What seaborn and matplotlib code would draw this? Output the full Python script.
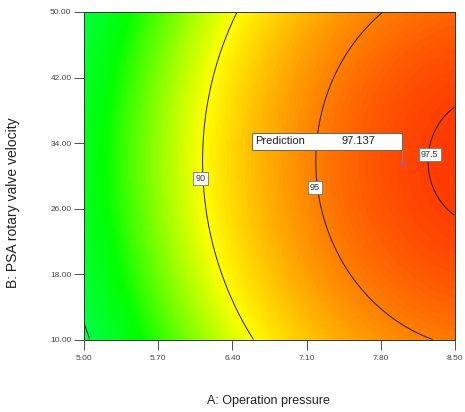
import numpy as np
import pandas as pd
import matplotlib
matplotlib.use("Agg")
import matplotlib.pyplot as plt
from matplotlib.colors import LinearSegmentedColormap
from matplotlib.patches import Rectangle
import seaborn as sns

# Factor ranges and tick labels
a_range = [5.00, 8.50]
b_range = [10.00, 50.00]
a_ticks = [5.00, 5.70, 6.40, 7.10, 7.80, 8.50]
b_ticks = [10.00, 18.00, 26.00, 34.00, 42.00, 50.00]

# Quadratic response surface: R = peak - ka*(A - a0)^2 - kb*(B - b0)^2
surface_peak = 97.835
surface_center = [8.80, 31.8]
surface_curvature = [1.09, 0.0054]

# Contour levels drawn, and where their labels sit
contour_levels = [80.0, 90.0, 95.0, 97.5]
label_levels = [90.0, 95.0, 97.5]
label_points = [(6.10, 29.7), (7.18, 28.6), (8.26, 32.6)]

# Flagged prediction
pred_point = (8.00, 31.6)
pred_value = 97.137

# Colour stops (response value -> colour)
stop_values = [58.0, 70.0, 83.7, 90.0, 100.0]
stop_colors = ["#0000ff", "#00ffff", "#00ff00", "#ffff00", "#ff0000"]


def response(a, b):
    return (surface_peak
            - surface_curvature[0] * (a - surface_center[0]) ** 2
            - surface_curvature[1] * (b - surface_center[1]) ** 2)


sns.set_style("white")
plt.rcParams["font.family"] = ["Liberation Sans", "DejaVu Sans"]

N = 300
a_cent = a_range[0] + (np.arange(N) + 0.5) * (a_range[1] - a_range[0]) / N
b_cent = b_range[0] + (np.arange(N) + 0.5) * (b_range[1] - b_range[0]) / N
AA, BB = np.meshgrid(a_cent, b_cent)
Z = response(AA, BB)
grid = pd.DataFrame(Z, index=b_cent, columns=a_cent)

vmin, vmax = stop_values[0], stop_values[-1]
pos = [(v - vmin) / (vmax - vmin) for v in stop_values]
cmap = LinearSegmentedColormap.from_list("de", list(zip(pos, stop_colors)))


def ix(a):
    return (np.asarray(a) - a_range[0]) / (a_range[1] - a_range[0]) * N


def iy(b):
    return (np.asarray(b) - b_range[0]) / (b_range[1] - b_range[0]) * N


fig = plt.figure(figsize=(4.65, 4.12), dpi=100)
ax = fig.add_axes([0.1806, 0.1748, 0.7978, 0.7961])

sns.heatmap(grid, ax=ax, cmap=cmap, vmin=vmin, vmax=vmax, cbar=False,
            xticklabels=False, yticklabels=False, linewidths=0,
            rasterized=True)
ax.set_xlim(0, N)
ax.set_ylim(0, N)

XI, YI = np.meshgrid(np.arange(N) + 0.5, np.arange(N) + 0.5)
cs = ax.contour(XI, YI, Z, levels=contour_levels, colors="#202020",
                linewidths=0.7)

# Contour value labels
for lev, (la, lb) in zip(label_levels, label_points):
    ax.text(ix(la), iy(lb), f"{lev:g}", fontsize=6.5, color="#333333",
            ha="center", va="center", zorder=5,
            bbox=dict(boxstyle="square,pad=0.25", fc="white",
                      ec="#777777", lw=0.6))

# Prediction flag
px, py = ix(pred_point[0]), iy(pred_point[1])
box_h = iy(pred_point[1] + 2.07) - py
box_w = ix(pred_point[0]) - ix(pred_point[0] - 1.415)
gap = iy(pred_point[1] + 1.6) - py
ax.plot([px, px], [py, py + gap], color="#b07090", lw=0.8, zorder=6)
ax.plot([px], [py], marker="o", ms=2.5, color="#c05080", zorder=7)
ax.add_patch(Rectangle((px - box_w, py + gap), box_w, box_h, fc="white",
                       ec="#666666", lw=0.7, zorder=6))
ax.text(px - box_w + 2.5, py + gap + box_h / 2, "Prediction", fontsize=8,
        color="#222222", ha="left", va="center", zorder=7)
ax.text(px - box_w + 0.6 * box_w, py + gap + box_h / 2, f"{pred_value:.3f}",
        fontsize=8, color="#222222", ha="left", va="center", zorder=7)

# Axes ticks
ax.set_xticks(ix(a_ticks))
ax.set_xticklabels([f"{t:.2f}" for t in a_ticks])
ax.set_yticks(iy(b_ticks))
ax.set_yticklabels([f"{t:.2f}" for t in b_ticks])
ax.tick_params(axis="both", which="both", direction="out", length=7,
               width=0.6, color="#333333", labelsize=6, labelcolor="#444444",
               bottom=True, left=True)
ax.tick_params(axis="x", pad=4)
ax.tick_params(axis="y", pad=2)
for s in ax.spines.values():
    s.set_visible(True)
    s.set_color("#333333")
    s.set_linewidth(0.7)

ax.set_xlabel("A: Operation pressure", fontsize=9, color="#222222")
ax.set_ylabel("B: PSA rotary valve velocity", fontsize=10, color="#222222")
ax.xaxis.label.set_va("center")
ax.yaxis.label.set_va("center")
ax.xaxis.set_label_coords(0.496, -0.186)
ax.yaxis.set_label_coords(-0.191, 0.418)

fig.savefig("out.png", dpi=100)
